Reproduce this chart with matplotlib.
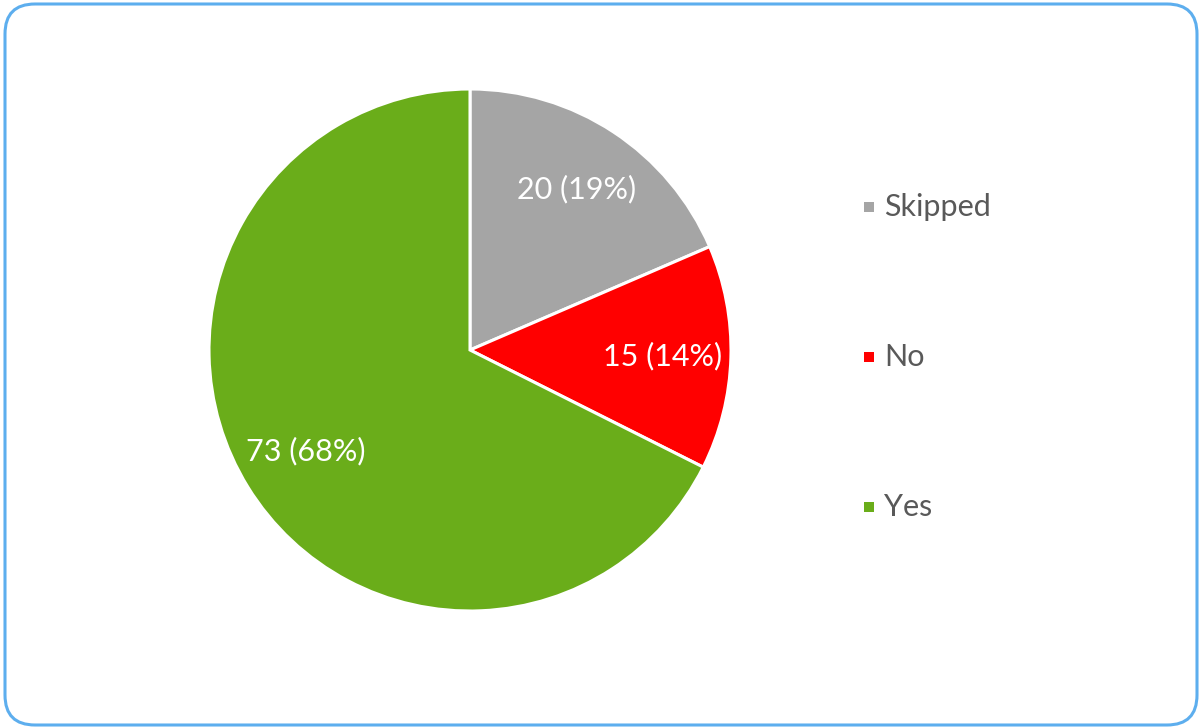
import matplotlib
matplotlib.use("Agg")
import matplotlib.pyplot as plt
from matplotlib.patches import FancyBboxPatch, Rectangle

categories = ["Skipped", "No", "Yes"]
values = [20, 15, 73]
colors = ["#A5A5A5", "#FF0000", "#6AAD1A"]

plt.rcParams['font.family'] = ['Lato', 'DejaVu Sans']

W, H = 1203, 727
fig = plt.figure(figsize=(W / 100, H / 100), dpi=100)

# rounded border
border = FancyBboxPatch((5, 2), 1192, 721, boxstyle="round,pad=0,rounding_size=30",
                        transform=None, fill=False, edgecolor="#5DAEEE", linewidth=2.2)
fig.patches.append(border)

cx, cy, r = 470, 350, 261
ax = fig.add_axes([(cx - r) / W, (H - cy - r) / H, 2 * r / W, 2 * r / H])
total = sum(values)
labels_txt = [f"{v} ({round(v / total * 100)}%)" for v in values]
wedges, texts = ax.pie(values, colors=colors, startangle=90, counterclock=False,
                       labels=labels_txt, labeldistance=0.74,
                       wedgeprops=dict(edgecolor="white", linewidth=2.2),
                       textprops=dict(color="white", fontsize=22))
for t in texts:
    t.set_horizontalalignment("center")
    t.set_verticalalignment("center")
ax.set_xlim(-1, 1)
ax.set_ylim(-1, 1)
ax.set_aspect("equal")
ax.axis("off")

# legend
rows_y = [207, 357, 507]
for name, col, yy in zip(categories, colors, rows_y):
    fig.patches.append(Rectangle((864 / W, (H - yy - 5) / H), 10 / W, 10 / H,
                                 transform=fig.transFigure, facecolor=col, edgecolor="none"))
    fig.text(884 / W, (H - yy) / H, name, fontsize=22, color="#595959",
             ha="left", va="center")

fig.savefig("out.png", dpi=100)
